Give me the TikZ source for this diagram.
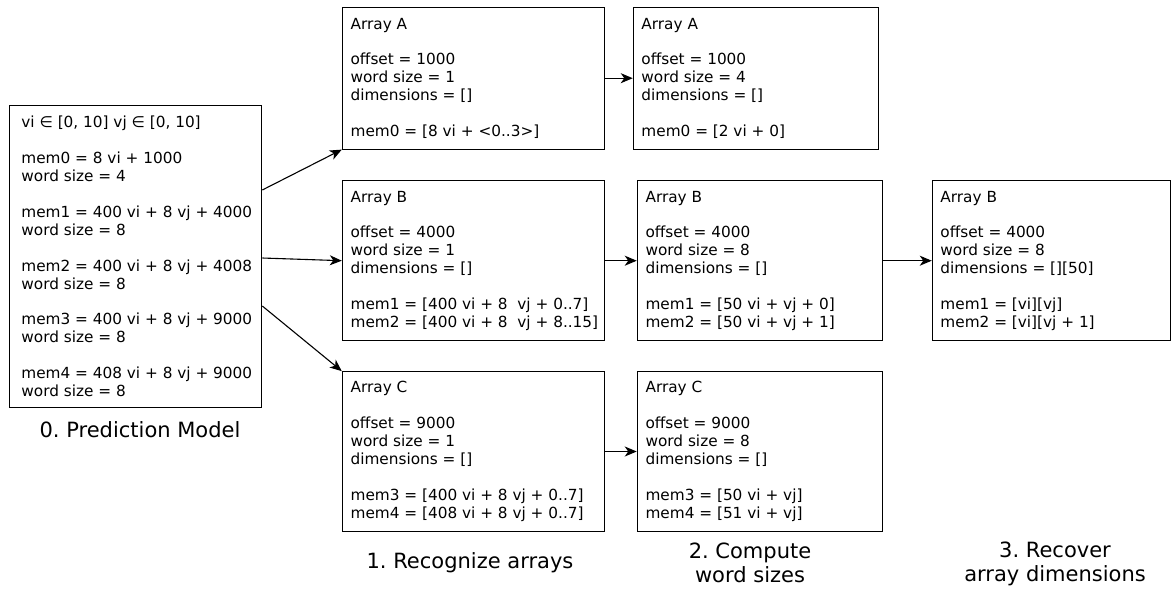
\documentclass[tikz,border=0pt]{standalone}
\usepackage{fontspec}
\setmainfont{DejaVu Sans}
\usetikzlibrary{arrows.meta}
\frenchspacing
\tikzset{
  box/.style={draw=black, line width=1.1pt, inner sep=0pt, rectangle},
  txt/.style={align=left, inner sep=0pt, anchor=west, font=\fontsize{15.3pt}{17.9pt}\selectfont\frenchspacing},
  lbl/.style={align=center, inner sep=0pt, font=\fontsize{21pt}{24pt}\selectfont\frenchspacing},
  arr/.style={line width=1.1pt, -{Stealth[length=12pt, width=10pt, inset=3.5pt]}}
}
\begin{document}
\begin{tikzpicture}[x=1pt,y=-1pt]
\useasboundingbox (0,0) rectangle (1171,590);
% boxes
\node[box, minimum width=252.7pt, minimum height=301.6pt] (model) at (135.4,256.5) {};
\node[box, minimum width=261.7pt, minimum height=141.7pt] (a1) at (473.2,78.2) {};
\node[box, minimum width=245pt, minimum height=141.7pt] (a2) at (755.8,78.2) {};
\node[box, minimum width=261.7pt, minimum height=160pt] (b1) at (473.2,260.7) {};
\node[box, minimum width=245pt, minimum height=160pt] (b2) at (759.8,260.7) {};
\node[box, minimum width=238.2pt, minimum height=160pt] (b3) at (1051.4,260.7) {};
\node[box, minimum width=261.7pt, minimum height=159.6pt] (c1) at (473.2,451.5) {};
\node[box, minimum width=245pt, minimum height=159.6pt] (c2) at (759.8,451.5) {};
% texts
\node[txt] (modelt) at ([xshift=12.7pt]model.west) {vi ∈ [0, 10] vj ∈ [0, 10]\\[17.9pt]
mem0 = 8 vi + 1000\\word size = 4\\[17.9pt]
mem1 = 400 vi + 8 vj + 4000\\word size = 8\\[17.9pt]
mem2 = 400 vi + 8 vj + 4008\\word size = 8\\[17.9pt]
mem3 = 400 vi + 8 vj + 9000\\word size = 8\\[17.9pt]
mem4 = 408 vi + 8 vj + 9000\\word size = 8};
\node[txt] (a1t) at ([xshift=8.6pt]a1.west) {Array A\\[17.9pt]
offset = 1000\\word size = 1\\dimensions = []\\[17.9pt]
mem0 = [8 vi + <0..3>]};
\node[txt] (a2t) at ([xshift=8.5pt]a2.west) {Array A\\[17.9pt]
offset = 1000\\word size = 4\\dimensions = []\\[17.9pt]
mem0 = [2 vi + 0]};
\node[txt] (b1t) at ([xshift=8.6pt]b1.west) {Array B\\[17.9pt]
offset = 4000\\word size = 1\\dimensions = []\\[17.9pt]
mem1 = [400 vi + 8~~vj + 0..7]\\mem2 = [400 vi + 8~~vj + 8..15]};
\node[txt] (b2t) at ([xshift=8.6pt]b2.west) {Array B\\[17.9pt]
offset = 4000\\word size = 8\\dimensions = []\\[17.9pt]
mem1 = [50 vi + vj + 0]\\mem2 = [50 vi + vj + 1]};
\node[txt] (b3t) at ([xshift=8.5pt]b3.west) {Array B\\[17.9pt]
offset = 4000\\word size = 8\\dimensions = [][50]\\[17.9pt]
mem1 = [vi][vj]\\mem2 = [vi][vj + 1]};
\node[txt] (c1t) at ([xshift=8.6pt]c1.west) {Array C\\[17.9pt]
offset = 9000\\word size = 1\\dimensions = []\\[17.9pt]
mem3 = [400 vi + 8 vj + 0..7]\\mem4 = [408 vi + 8 vj + 0..7]};
\node[txt] (c2t) at ([xshift=8.6pt]c2.west) {Array C\\[17.9pt]
offset = 9000\\word size = 8\\dimensions = []\\[17.9pt]
mem3 = [50 vi + vj]\\mem4 = [51 vi + vj]};
% labels
\node[lbl] (l0) at (140,430) {0. Prediction Model};
\node[lbl] (l1) at (470,563) {1. Recognize arrays};
\node[lbl] (l2) at (750,563) {2. Compute\\word sizes};
\node[lbl] (l3) at (1055,564) {3. Recover\\array dimensions};
% connectors
\coordinate (s1) at (262.3,190);
\coordinate (s2) at (262.3,258);
\coordinate (s3) at (262.3,306);
\draw[arr] (s1) -- (a1.south west);
\draw[arr] (s2) -- (b1.west);
\draw[arr] (s3) -- (c1.north west);
\draw[arr] (a1.east) -- (a2.west);
\draw[arr] (b1.east) -- (b2.west);
\draw[arr] (c1.east) -- (c2.west);
\draw[arr] (b2.east) -- (b3.west);
\end{tikzpicture}
\end{document}
